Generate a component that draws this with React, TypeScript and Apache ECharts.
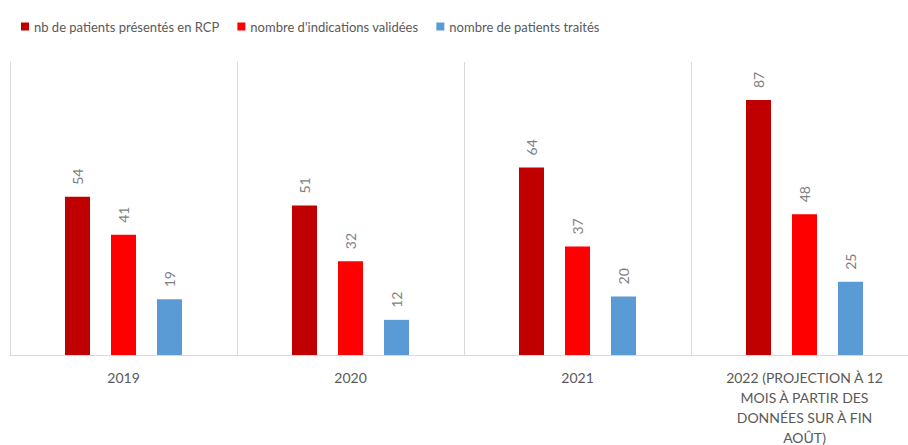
import React, { useEffect, useRef } from "react";
import * as echarts from "echarts";

const categories = [
  "2019",
  "2020",
  "2021",
  "2022 (PROJECTION À 12\nMOIS À PARTIR DES\nDONNÉES SUR À FIN\nAOÛT)",
];
const seriesNames = [
  "nb de patients présentés en RCP",
  "nombre d'indications validées",
  "nombre de patients traités",
];
const presentes = [54, 51, 64, 87];
const validees = [41, 32, 37, 48];
const traites = [19, 12, 20, 25];
const colors = ["#C00000", "#FF0000", "#5B9BD5"];

export default function App() {
  const ref = useRef<HTMLDivElement>(null);
  useEffect(() => {
    document.body.style.margin = "0";
    const chart = echarts.init(ref.current!, null, { renderer: "svg" });
    const values = [presentes, validees, traites];
    chart.setOption({
      animation: false,
      textStyle: { fontFamily: "Lato" },
      legend: {
        top: 15,
        left: 16,
        icon: "rect",
        itemWidth: 8,
        itemHeight: 8,
        itemGap: 18,
        textStyle: { fontSize: 13, color: "#595959", fontFamily: "Lato" },
        data: seriesNames,
      },
      grid: {
        left: 10,
        right: -10,
        top: 62,
        bottom: 90,
        containLabel: false,
        outerBoundsMode: "none",
      },
      xAxis: {
        type: "category",
        data: categories,
        axisTick: { show: false },
        axisLine: { lineStyle: { color: "#d9d9d9", width: 1 } },
        splitLine: { show: true, lineStyle: { color: "#d9d9d9", width: 1 } },
        axisLabel: {
          color: "#595959",
          fontSize: 14,
          margin: 12,
          lineHeight: 20,
          interval: 0,
          fontFamily: "Lato",
        },
      },
      yAxis: { type: "value", min: 0, max: 100, show: false, splitLine: { show: false } },
      series: seriesNames.map((name, i) => ({
        name,
        type: "bar",
        data: values[i],
        barWidth: 25,
        barGap: "84%",
        itemStyle: { color: colors[i] },
        label: {
          show: true,
          position: "top",
          rotate: 90,
          align: "left",
          verticalAlign: "middle",
          distance: 12,
          color: "#7f7f7f",
          fontSize: 14,
          fontFamily: "Lato",
        },
      })),
    });
    return () => chart.dispose();
  }, []);
  return <div ref={ref} style={{ width: 908, height: 445 }} />;
}
